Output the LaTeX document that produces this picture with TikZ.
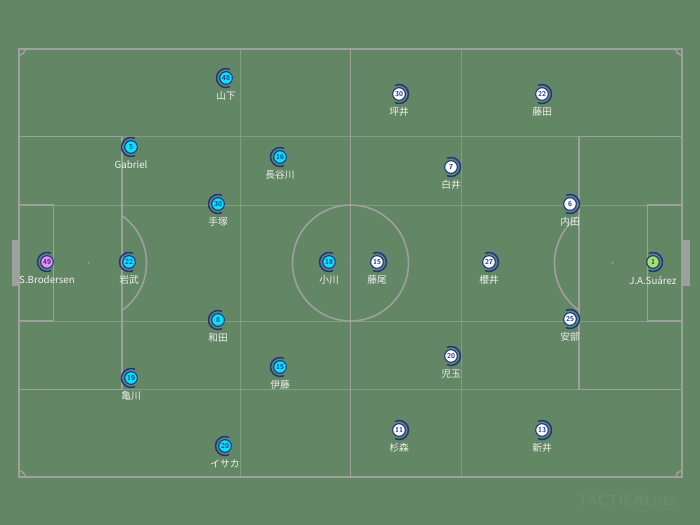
\documentclass[tikz,border=0pt]{standalone}
\usepackage{fontspec}
\usepackage{xcolor}
\newfontfamily\jpfont{Noto Sans CJK JP}

\definecolor{pitch}{RGB}{99,135,101}
\definecolor{lineclr}{RGB}{158,160,158}
\definecolor{zoneclr}{RGB}{128,158,128}
\definecolor{navy}{RGB}{28,52,138}
\definecolor{home}{RGB}{0,228,255}
\definecolor{homegk}{RGB}{236,140,236}
\definecolor{awaygk}{RGB}{160,228,100}

\tikzset{
  pline/.style={draw=lineclr, line width=1.2pt},
  pfill/.style={fill=lineclr},
  zone/.style={draw=zoneclr, line width=0.35pt},
  plr/.style={circle, draw=navy, line width=0.8pt, minimum size=9.5pt, inner sep=0pt,
    text=navy, font=\sffamily\bfseries\fontsize{5.4}{5}\selectfont},
  swirl/.style={draw=navy, line width=1.1pt, line cap=round},
  lbl/.style={text=white!94!black, inner sep=0pt, font=\jpfont\fontsize{7.3}{8}\selectfont}
}

\begin{document}
\begin{tikzpicture}[x=0.75pt,y=-0.75pt]
\fill[pitch] (0,0) rectangle (700,525);

% zones
\foreach \yy in {136.5,205,321,389.5}
  \draw[zone] (19,\yy) -- (682,\yy);
\foreach \xx in {240,461}
  \draw[zone] (\xx,49) -- (\xx,477);

% pitch
\draw[pline] (19,49) rectangle (682,477);
\draw[pline] (350.5,49) -- (350.5,477);
\draw[pline] (350.5,263) circle[radius=58];
\fill[pfill] (350.5,263) circle[radius=1];
\draw[pline] (19,136.5) rectangle (122,389.5);
\draw[pline] (579,136.5) rectangle (682,389.5);
\draw[pline] (19,205) rectangle (53.5,321);
\draw[pline] (647.5,205) rectangle (682,321);
\fill[pfill] (11.5,240) rectangle (19,286);
\fill[pfill] (682,240) rectangle (689.5,286);
\fill[pfill] (88.5,263) circle[radius=1];
\fill[pfill] (612.5,263) circle[radius=1];
\draw[pline] (88.5,263) ++(-54.7:58) arc[start angle=-54.7, end angle=54.7, radius=58];
\draw[pline] (612.5,263) ++(125.3:58) arc[start angle=125.3, end angle=234.7, radius=58];
\draw[pline] (25,49) arc[start angle=0, end angle=90, radius=6];
\draw[pline] (25,477) arc[start angle=0, end angle=-90, radius=6];
\draw[pline] (676,49) arc[start angle=180, end angle=90, radius=6];
\draw[pline] (676,477) arc[start angle=180, end angle=270, radius=6];

% home
\foreach \nm/\x/\y/\num/\fc/\txt in {
  h48/226/78/48/home/山下, h5/131/147/5/home/Gabriel, h16/280/157/16/home/長谷川,
  h30/218/204/30/home/手塚, h49/47/262/49/homegk/S.Brodersen, h22/129/262/22/home/岩武,
  h18/329/262/18/home/小川, h8/218/320/8/home/和田, h15/280/367/15/home/伊藤,
  h19/131/378/19/home/亀川, h20/225/446/20/home/イサカ}
{
  \node[plr, fill=\fc] (\nm) at (\x,\y) {\num};
  \draw[swirl] (\nm.center) ++(68:9.5) arc[start angle=68, end angle=292, radius=9.5];
  \node[lbl] (\nm-l) at (\x,\y+18) {\txt};
}

% away
\foreach \nm/\x/\y/\num/\fc/\txt in {
  a30/399/94/30/white/坪井, a22/542/94/22/white/藤田, a7/451/167/7/white/白井,
  a6/570/204/6/white/内田, a15/377/262/15/white/藤尾, a27/489/262/27/white/櫻井,
  a1/653/262/1/awaygk/J.A.Suárez, a25/570/319/25/white/安部, a20/451/356/20/white/児玉,
  a11/399/430/11/white/杉森, a13/542/430/13/white/新井}
{
  \node[plr, fill=\fc] (\nm) at (\x,\y) {\num};
  \draw[swirl] (\nm.center) ++(-112:9.5) arc[start angle=-112, end angle=112, radius=9.5];
  \node[lbl] (\nm-l) at (\x,\y+18) {\txt};
}

\node[text=pitch!95!white, font=\sffamily\bfseries\fontsize{11}{11}\selectfont] (wm) at (627,500) {TACTICALista};
\end{tikzpicture}
\end{document}
